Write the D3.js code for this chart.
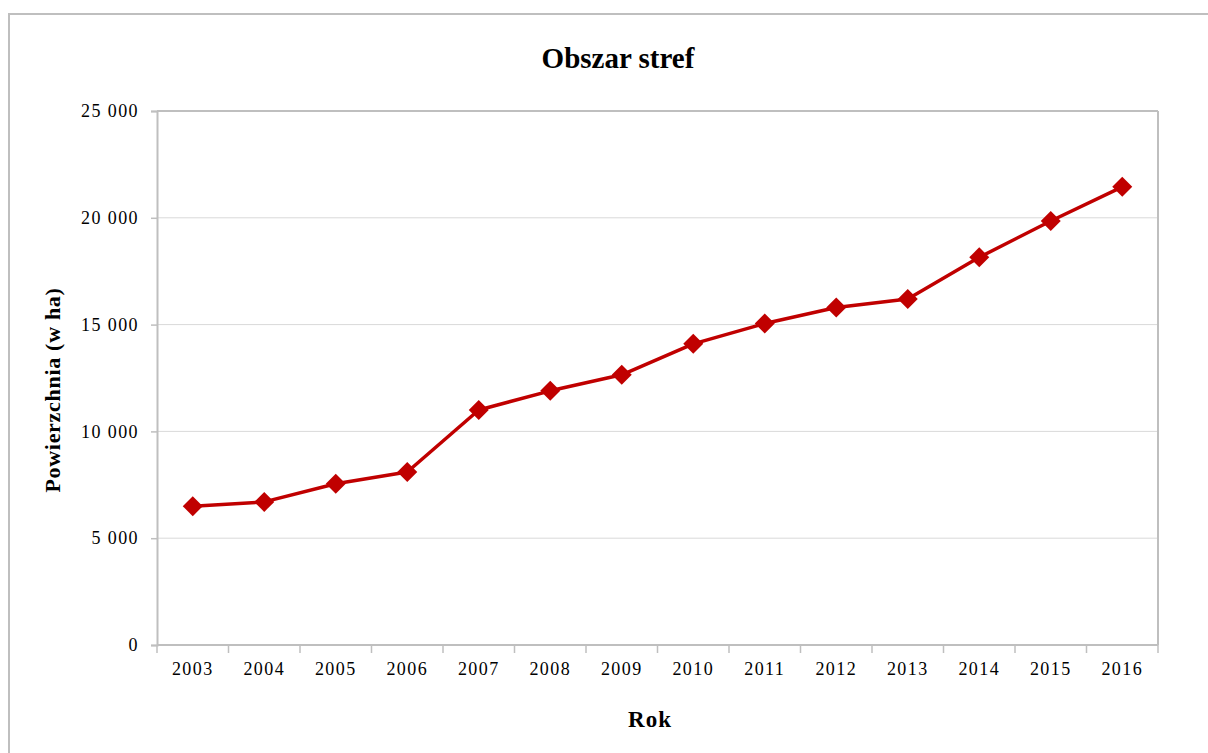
<!DOCTYPE html>
<html>
<head>
<meta charset="utf-8">
<script src="https://cdn.jsdelivr.net/npm/d3@7"></script>
<style>
  body { margin: 0; background: #fff; }
  text { font-family: "Liberation Serif", "Times New Roman", serif; fill: #000; }
</style>
</head>
<body>
<svg id="chart" width="1208" height="753"></svg>
<script>
var years = ["2003", "2004", "2005", "2006", "2007", "2008", "2009", "2010", "2011", "2012", "2013", "2014", "2015", "2016"];
var area = [6500, 6700, 7550, 8100, 11000, 11900, 12650, 14100, 15050, 15800, 16200, 18150, 19850, 21450];
var yTicks = [0, 5000, 10000, 15000, 20000, 25000];

var svg = d3.select("#chart"),
    margin = {top: 111, right: 50, bottom: 108, left: 157},
    width = +svg.attr("width") - margin.left - margin.right,
    height = +svg.attr("height") - margin.top - margin.bottom;

// outer chart frame
svg.append("rect")
  .attr("x", 9).attr("y", 14)
  .attr("width", 1220).attr("height", 760)
  .attr("fill", "none")
  .attr("stroke", "#bfbfbf")
  .attr("stroke-width", 2);

var xScale = d3.scaleBand().range([0, width]).domain(years);
var yScale = d3.scaleLinear().range([height, 0]).domain([0, 25000]);

var g = svg.append("g")
  .attr("transform", "translate(" + margin.left + "," + margin.top + ")");

// grid lines
g.append("g").selectAll("line")
  .data(yTicks.slice(1))
  .enter().append("line")
    .attr("x1", 0).attr("x2", width)
    .attr("y1", function(d) { return yScale(d); })
    .attr("y2", function(d) { return yScale(d); })
    .attr("stroke", "#d9d9d9")
    .attr("stroke-width", 1);

// plot area border (top + right)
g.append("line")
  .attr("x1", width).attr("x2", width)
  .attr("y1", 0).attr("y2", height)
  .attr("stroke", "#bfbfbf").attr("stroke-width", 2);
g.append("line")
  .attr("x1", 0).attr("x2", width)
  .attr("y1", 0).attr("y2", 0)
  .attr("stroke", "#bfbfbf").attr("stroke-width", 2);

var fmt = function(d) { return d3.format(",")(d).replace(/,/g, " "); };

var yAxis = d3.axisLeft(yScale).tickValues(yTicks).tickFormat(fmt).tickSize(6).tickPadding(12);
var gy = g.append("g").attr("class", "axis axis--y").call(yAxis);
gy.select(".domain").attr("stroke", "#bfbfbf").attr("stroke-width", 2);
gy.selectAll(".tick line").attr("stroke", "#bfbfbf").attr("stroke-width", 1.5);
gy.selectAll(".tick text")
  .attr("font-family", null)
  .style("font-size", "18px")
  .style("letter-spacing", "1.4px");

// x axis with ticks between categories
var gx = g.append("g")
  .attr("class", "axis axis--x")
  .attr("transform", "translate(0," + height + ")");
gx.append("line")
  .attr("x1", 0).attr("x2", width)
  .attr("stroke", "#bfbfbf").attr("stroke-width", 2);
gx.selectAll(".sep")
  .data(years.concat(["end"]))
  .enter().append("line")
    .attr("class", "sep")
    .attr("x1", function(d, i) { return i * xScale.step(); })
    .attr("x2", function(d, i) { return i * xScale.step(); })
    .attr("y1", 0).attr("y2", 8)
    .attr("stroke", "#bfbfbf").attr("stroke-width", 1.5);
gx.selectAll(".lbl")
  .data(years)
  .enter().append("text")
    .attr("class", "lbl")
    .attr("x", function(d) { return xScale(d) + xScale.bandwidth() / 2; })
    .attr("y", 30)
    .attr("text-anchor", "middle")
    .style("font-size", "18px")
    .style("letter-spacing", "1.4px")
    .text(function(d) { return d; });

// line
var line = d3.line()
  .x(function(d, i) { return xScale(years[i]) + xScale.bandwidth() / 2; })
  .y(function(d) { return yScale(d); });

g.append("path")
  .datum(area)
  .attr("fill", "none")
  .attr("stroke", "#c00000")
  .attr("stroke-width", 3.5)
  .attr("stroke-linejoin", "round")
  .attr("d", line);

// diamond markers
g.selectAll(".marker")
  .data(area)
  .enter().append("path")
    .attr("class", "marker")
    .attr("transform", function(d, i) {
      return "translate(" + (xScale(years[i]) + xScale.bandwidth() / 2) + "," + yScale(d) + ")";
    })
    .attr("d", "M0,-10L10,0L0,10L-10,0Z")
    .attr("fill", "#c00000");

// titles
svg.append("text")
  .attr("x", 618).attr("y", 68)
  .attr("text-anchor", "middle")
  .style("font-size", "29px")
  .style("font-weight", "bold")
  .text("Obszar stref");

svg.append("text")
  .attr("transform", "translate(60,390) rotate(-90)")
  .attr("text-anchor", "middle")
  .style("font-size", "22px")
  .style("font-weight", "bold")
  .style("letter-spacing", "0.7px")
  .text("Powierzchnia (w ha)");

svg.append("text")
  .attr("x", 650).attr("y", 727)
  .attr("text-anchor", "middle")
  .style("font-size", "23px")
  .style("font-weight", "bold")
  .style("letter-spacing", "1px")
  .text("Rok");
</script>
</body>
</html>
